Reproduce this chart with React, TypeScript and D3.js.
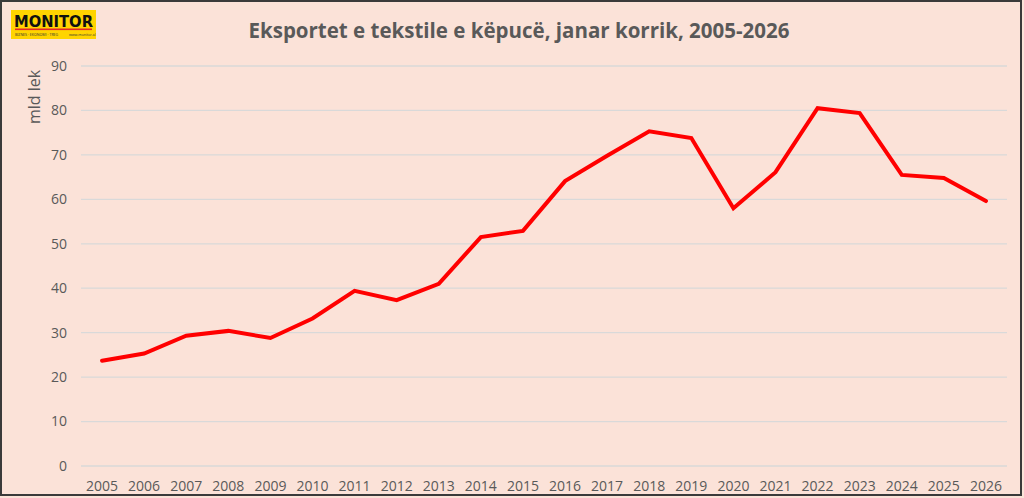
import { useMemo } from 'react';
import * as d3 from 'd3';

const years = [
  '2005', '2006', '2007', '2008', '2009', '2010', '2011', '2012', '2013', '2014', '2015',
  '2016', '2017', '2018', '2019', '2020', '2021', '2022', '2023', '2024', '2025', '2026',
];
const exportValues = [
  23.7, 25.3, 29.3, 30.4, 28.8, 33.2, 39.4, 37.3, 41.0, 51.5, 52.9,
  64.1, 69.8, 75.3, 73.8, 58.0, 66.1, 80.5, 79.4, 65.5, 64.8, 59.6,
];
const yTicks = [0, 10, 20, 30, 40, 50, 60, 70, 80, 90];

const title = 'Eksportet e tekstile e këpucë, janar korrik, 2005-2026';
const yLabel = 'mld lek';

const width = 1024;
const height = 498;
const margin = { top: 66, right: 17, bottom: 32, left: 81 };
const textColor = '#595959';
const font = "'Open Sans', sans-serif";

export default function App() {
  const innerWidth = width - margin.left - margin.right;
  const innerHeight = height - margin.top - margin.bottom;

  const xScale = useMemo(
    () => d3.scaleBand().domain(years).range([0, innerWidth]).padding(0),
    [innerWidth]
  );
  const yScale = useMemo(
    () => d3.scaleLinear().domain([0, 90]).range([innerHeight, 0]),
    [innerHeight]
  );

  const line = d3
    .line<number>()
    .x((_, i) => (xScale(years[i]) || 0) + xScale.bandwidth() / 2)
    .y(d => yScale(d));

  return (
    <svg
      width={width}
      height={height}
      style={{ position: 'absolute', left: 0, top: 0, display: 'block' }}
    >
      <rect x={0} y={0} width={width} height={height} fill="#fbe2d8" />
      <rect
        x={1}
        y={1}
        width={width - 4}
        height={height - 4}
        fill="none"
        stroke="#3a3a3a"
        strokeWidth={2}
      />

      {/* logo */}
      <g transform="translate(11,10)">
        <rect width={85} height={29} fill="#ffd400" />
        <text
          x={42.5}
          y={16.5}
          textAnchor="middle"
          fontFamily="'DejaVu Sans', sans-serif"
          fontWeight="bold"
          fontSize={15.5}
          fill="#111"
          textLength={79}
          lengthAdjust="spacingAndGlyphs"
        >
          MONITOR
        </text>
        <rect x={4} y={18.5} width={77} height={1.6} fill="#e3262b" />
        <text x={4} y={26} fontFamily={font} fontSize={3.6} fill="#333">
          BIZNES · EKONOMI · TREG
        </text>
        <text x={58} y={26} fontFamily={font} fontSize={3.6} fill="#333">
          www.monitor.al
        </text>
      </g>

      <text
        x={519}
        y={38}
        textAnchor="middle"
        fontFamily={font}
        fontWeight="bold"
        fontSize={20.5}
        fill={textColor}
      >
        {title}
      </text>

      <text
        transform="translate(40,97) rotate(-90)"
        textAnchor="middle"
        fontFamily={font}
        fontSize={16}
        fill={textColor}
      >
        {yLabel}
      </text>

      <g transform={`translate(${margin.left},${margin.top})`}>
        {yTicks.map(t => (
          <g key={t}>
            <line
              x1={0}
              x2={innerWidth}
              y1={yScale(t)}
              y2={yScale(t)}
              stroke="#d9d9d9"
              strokeWidth={1.3}
            />
            <text
              x={-14}
              y={yScale(t)}
              dy="0.35em"
              textAnchor="end"
              fontFamily={font}
              fontSize={14}
              fill={textColor}
            >
              {t}
            </text>
          </g>
        ))}

        {years.map(y => (
          <text
            key={y}
            x={(xScale(y) || 0) + xScale.bandwidth() / 2}
            y={innerHeight + 25}
            textAnchor="middle"
            fontFamily={font}
            fontSize={14}
            fill={textColor}
          >
            {y}
          </text>
        ))}

        <path
          d={line(exportValues) || ''}
          fill="none"
          stroke="#ff0000"
          strokeWidth={4}
          strokeLinejoin="miter"
          strokeLinecap="round"
        />
      </g>
    </svg>
  );
}
